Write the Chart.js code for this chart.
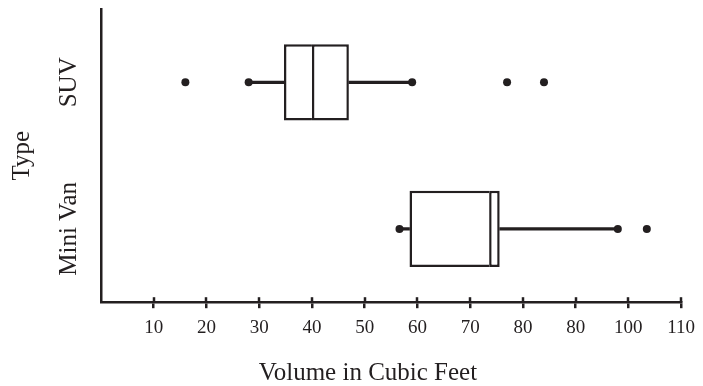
<!DOCTYPE html>
<html>
<head>
<meta charset="utf-8">
<script src="https://cdn.jsdelivr.net/npm/chart.js@4.4.1/dist/chart.umd.min.js"></script>
<style>
  html, body { margin: 0; padding: 0; background: #fff; }
  #wrap { width: 703px; height: 386px; }
</style>
</head>
<body>
<div id="wrap"><canvas id="chart" width="703" height="386"></canvas></div>
<script>
// box plot stats
const categories = ['SUV', 'Mini Van'];
const minVals = [28, 56.6];
const q1Vals = [34.7, 58.5];
const medianVals = [40, 73.6];
const q3Vals = [47, 75.6];
const maxVals = [59, 98];
const outliers = [[16, 77, 84], [103.5]];
// the original labels the 90 tick as "80"
const xTickLabels = ['10', '20', '30', '40', '50', '60', '70', '80', '80', '100', '110'];
const xTitle = 'Volume in Cubic Feet';
const yTitle = 'Type';

const ink = '#231f20';
const serif = "'Liberation Serif', 'Times New Roman', serif";

const lowWhisker = categories.map((_, i) => [minVals[i], q1Vals[i]]);
const highWhisker = categories.map((_, i) => [q3Vals[i], maxVals[i]]);
const boxLower = categories.map((_, i) => [q1Vals[i], medianVals[i]]);
const boxUpper = categories.map((_, i) => [medianVals[i], q3Vals[i]]);

const dots = [];
categories.forEach((c, i) => {
  dots.push({x: minVals[i], y: c}, {x: maxVals[i], y: c});
  outliers[i].forEach(v => dots.push({x: v, y: c}));
});

// labels, x title and the part of each tick that pokes above the axis
const extras = {
  id: 'extras',
  afterDraw(chart) {
    const {ctx, scales: {x, y}} = chart;
    ctx.save();
    ctx.strokeStyle = ink;
    ctx.lineWidth = 2.5;
    x.ticks.forEach(t => {
      if (t.value === 0) return;
      const px = Math.round(x.getPixelForValue(t.value));
      ctx.beginPath();
      ctx.moveTo(px, y.bottom - 5);
      ctx.lineTo(px, y.bottom);
      ctx.stroke();
    });
    ctx.fillStyle = ink;
    ctx.font = '25px ' + serif;
    ctx.textAlign = 'center';
    ctx.textBaseline = 'middle';
    categories.forEach((c, i) => {
      ctx.save();
      ctx.translate(69, y.getPixelForValue(i));
      ctx.rotate(-Math.PI / 2);
      ctx.fillText(c, 0, 0);
      ctx.restore();
    });
    ctx.textBaseline = 'alphabetic';
    ctx.fillText(xTitle, 368, 380);
    ctx.restore();
  }
};

const boxStyle = {
  backgroundColor: '#fff',
  borderColor: ink,
  borderWidth: 2.5,
  grouped: false,
  categoryPercentage: 1,
  barPercentage: 0.52
};

new Chart(document.getElementById('chart'), {
  type: 'bar',
  data: {
    labels: categories,
    datasets: [
      {
        type: 'scatter',
        data: dots,
        pointRadius: 4,
        pointHoverRadius: 4,
        pointBackgroundColor: ink,
        pointBorderWidth: 0
      },
      Object.assign({data: boxUpper, borderSkipped: false}, boxStyle),
      Object.assign({data: boxLower, borderSkipped: 'right'}, boxStyle),
      {data: lowWhisker, backgroundColor: ink, borderWidth: 0, grouped: false, barThickness: 2.5},
      {data: highWhisker, backgroundColor: ink, borderWidth: 0, grouped: false, barThickness: 2.5}
    ]
  },
  options: {
    indexAxis: 'y',
    responsive: false,
    animation: false,
    layout: {autoPadding: false, padding: {top: 9, right: 16, bottom: 39, left: 0}},
    plugins: {legend: {display: false}, tooltip: {enabled: false}},
    scales: {
      x: {
        type: 'linear',
        position: 'bottom',
        min: 0,
        max: 110,
        ticks: {
          stepSize: 10,
          padding: 8,
          color: ink,
          font: {family: serif, size: 19},
          callback: v => v === 0 ? '' : xTickLabels[v / 10 - 1]
        },
        grid: {
          drawOnChartArea: false,
          drawTicks: true,
          tickLength: 6,
          lineWidth: 2.5,
          color: c => (c.tick && c.tick.value === 0) ? 'rgba(0,0,0,0)' : ink
        },
        border: {display: true, color: ink, width: 2.5}
      },
      y: {
        type: 'category',
        position: 'left',
        offset: true,
        ticks: {display: false},
        grid: {drawOnChartArea: false, drawTicks: false, color: ink},
        border: {display: true, color: ink, width: 2.5},
        title: {
          display: true,
          text: yTitle,
          color: ink,
          font: {family: serif, size: 25},
          padding: {top: 7.5, bottom: 63.5}
        }
      }
    }
  },
  plugins: [extras]
});
</script>
</body>
</html>
